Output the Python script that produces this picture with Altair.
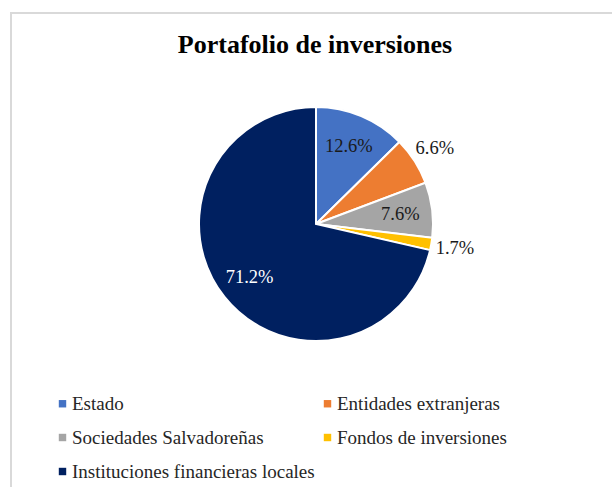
import altair as alt
import pandas as pd

categories = ["Estado", "Entidades extranjeras", "Sociedades Salvadoreñas",
              "Fondos de inversiones", "Instituciones financieras locales"]
values = [12.6, 6.6, 7.6, 1.7, 71.2]
labels = ["12.6%", "6.6%", "7.6%", "1.7%", "71.2%"]
colors = ["#4472C4", "#ED7D31", "#A5A5A5", "#FFC000", "#002060"]

df = pd.DataFrame({"category": categories, "value": values, "label": labels,
                   "idx": list(range(len(categories)))})

# Legend fills column by column; reorder so it reads row by row (2 columns)
leg_order = [0, 2, 4, 1, 3]
leg_domain = [categories[i] for i in leg_order]
leg_range = [colors[i] for i in leg_order]

CX, CY, R = 316, 224, 117
SERIF = "Liberation Serif"

frame = alt.Chart(pd.DataFrame({"a": [0]})).mark_rect(
    fill="transparent", stroke="#D9D9D9", strokeWidth=2
).encode(x=alt.value(11), y=alt.value(13), x2=alt.value(700), y2=alt.value(600))

arc = alt.Chart(df).mark_arc(outerRadius=R, stroke="white", strokeWidth=2).encode(
    theta=alt.Theta("value:Q", stack=True),
    order=alt.Order("idx:Q"),
    x=alt.value(CX), y=alt.value(CY),
    color=alt.Color(
        "category:N",
        sort=leg_domain,
        scale=alt.Scale(domain=leg_domain, range=leg_range),
        legend=alt.Legend(
            orient="none", legendX=53, legendY=394, columns=2, title=None,
            symbolType="square", symbolSize=55, symbolStrokeWidth=0,
            labelFont=SERIF, labelFontSize=19, labelColor="#262626",
            labelLimit=0, rowPadding=14, columnPadding=3, labelOffset=0,
        ),
    ),
)

text = alt.Chart(df).transform_window(
    cum="sum(value)", sort=[alt.SortField("idx")], frame=[None, 0]
).transform_joinaggregate(
    total="sum(value)"
).transform_calculate(
    ang="(datum.cum - datum.value / 2) / datum.total * 2 * PI",
    r="datum.value < 7 ? 141 : 85",
).transform_calculate(
    px=f"{CX} + datum.r * sin(datum.ang)",
    py=f"{CY} - datum.r * cos(datum.ang)",
).mark_text(font=SERIF, fontSize=18.5).encode(
    x=alt.X("px:Q", scale=None),
    y=alt.Y("py:Q", scale=None),
    text="label:N",
    color=alt.condition("datum.value > 50", alt.value("white"), alt.value("#1a1a1a")),
)

title = alt.Chart(pd.DataFrame({"t": ["Portafolio de inversiones"]})).mark_text(
    font=SERIF, fontSize=26, fontWeight="bold", color="black", baseline="middle"
).encode(x=alt.value(315), y=alt.value(45), text="t:N")

chart = alt.layer(frame, arc, text, title).properties(
    width=612, height=487, autosize="none", padding=0
).configure_view(stroke=None)

chart.save("out.html", embed_options={"renderer": "svg", "actions": False})
